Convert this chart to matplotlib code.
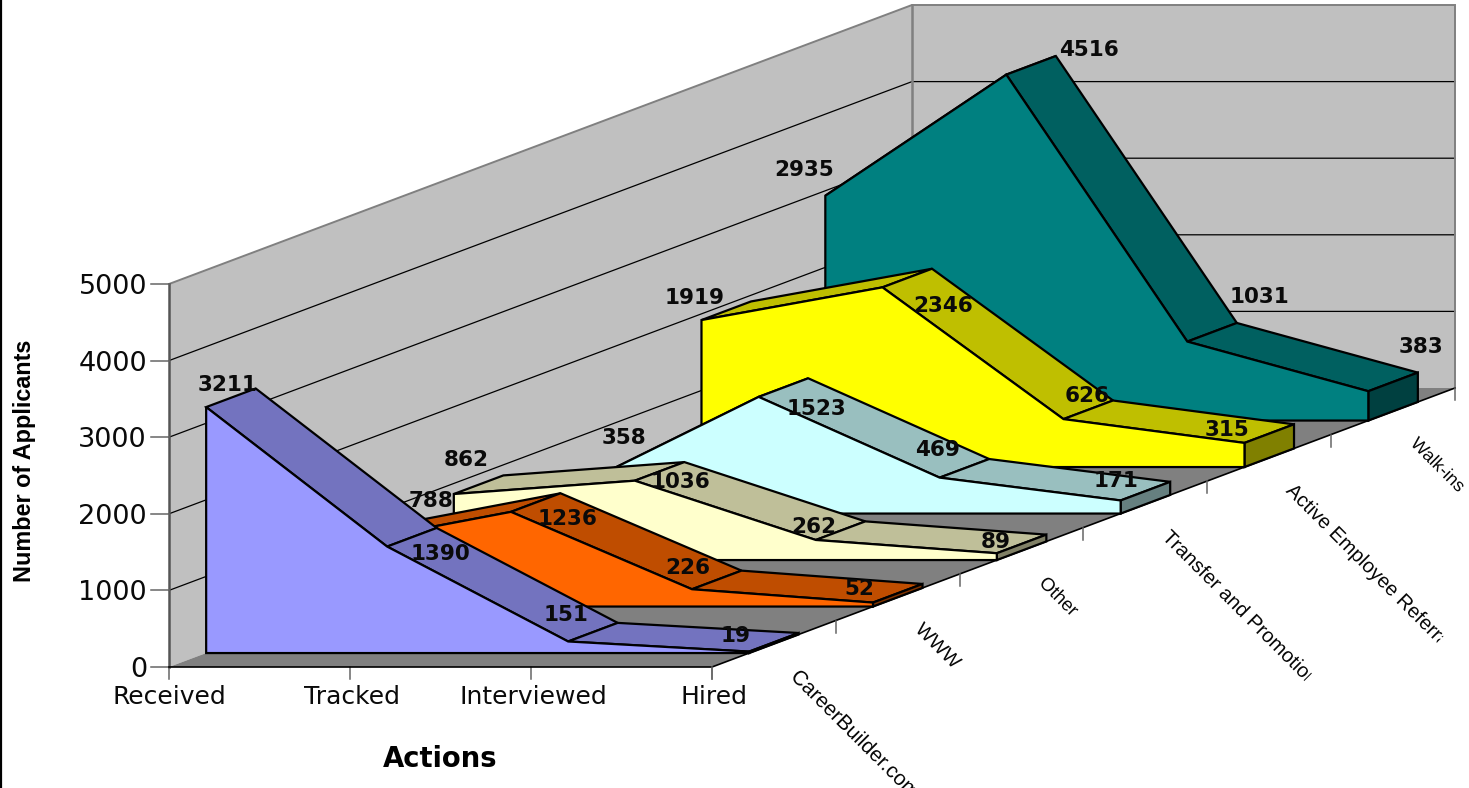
import matplotlib
matplotlib.use("Agg")
import matplotlib.pyplot as plt
import matplotlib.patheffects as pe
from matplotlib.patches import Polygon
import numpy as np

actions = ["Received", "Tracked", "Interviewed", "Hired"]
sources = ["CareerBuilder.com", "WWW", "Other", "Transfer and Promotion",
           "Active Employee Referral", "Walk-ins"]

career_builder = [3211, 1390, 151, 19]
www = [788, 1236, 226, 52]
other = [862, 1036, 262, 89]
transfer = [358, 1523, 469, 171]
active_referral = [1919, 2346, 626, 315]
walk_ins = [2935, 4516, 1031, 383]
series_values = [career_builder, www, other, transfer, active_referral, walk_ins]

value_ticks = [0, 1000, 2000, 3000, 4000, 5000]
value_max = 5000

face_colors = ["#9999FF", "#FF6600", "#FFFFCC", "#CCFFFF", "#FFFF00", "#008080"]

# Nudges (pixels) that keep each value label clear of its ridge
label_nudges = [
    [(-3, -15), (29, 15), (-27, -19), (-38, -8)],
    [(76, -38), (32, 14), (-29, -14), (-38, -6)],
    [(-12, -27), (21, 9), (-27, -6), (-26, -4)],
    [(22, -41), (33, 19), (-27, -20), (-29, -12)],
    [(-32, -15), (36, 26), (-1, -16), (-42, -6)],
    [(-46, -18), (58, -17), (47, -37), (28, -37)],
]

# Room (pixels) allotted to each depth label before it is cut short, and its size
label_room = [166, 200, 200, 202, 214, 200]
label_sizes = [15, 14, 13.5, 14.5, 14.5, 13]

# Oblique projection of the chart box
ORIGIN = np.array([169.0, 667.0])
WIDTH = 543.0
DEPTH_DX, DEPTH_DY = 743.0, 279.0
HEIGHT = 383.0
BAND_GAP = 0.3


def project(u, v, value=0.0):
    """Map category fraction u, depth fraction v and a value to canvas pixels."""
    x = ORIGIN[0] + u * WIDTH + v * DEPTH_DX
    y = ORIGIN[1] - v * DEPTH_DY - value / value_max * HEIGHT
    return (x, y)


def shade(color, factor):
    rgb = np.array(matplotlib.colors.to_rgb(color))
    return tuple(rgb * factor)


fig = plt.figure(figsize=(14.69, 7.88), dpi=100, facecolor="white")
ax = fig.add_axes([0, 0, 1, 1])
ax.set_xlim(0, 1469)
ax.set_ylim(788, 0)
ax.axis("off")

WALL = "#C0C0C0"
FLOOR = "#808080"
EDGE = "#808080"
TEXT = "#0A0A0A"

# Walls and floor
ax.add_patch(Polygon([project(0, 0), project(0, 1), project(0, 1, value_max), project(0, 0, value_max)],
                     fc=WALL, ec="none", zorder=1))
ax.add_patch(Polygon([project(0, 1), project(1, 1), project(1, 1, value_max), project(0, 1, value_max)],
                     fc=WALL, ec="none", zorder=1))
ax.add_patch(Polygon([project(0, 0), project(1, 0), project(1, 1), project(0, 1)],
                     fc=FLOOR, ec="none", zorder=1))

# Gridlines across both walls
for val in value_ticks[1:-1]:
    pts = [project(0, 0, val), project(0, 1, val), project(1, 1, val)]
    ax.plot(*zip(*pts), color="black", lw=0.9, zorder=2)

# Wall frame
ax.plot(*zip(project(0, 0, value_max), project(0, 1, value_max), project(1, 1, value_max), project(1, 1)),
        color=EDGE, lw=1.4, zorder=2, solid_joinstyle="miter")
ax.plot(*zip(project(0, 1), project(0, 1, value_max)), color=EDGE, lw=1.8, zorder=2)
ax.plot(*zip(project(0, 0), project(0, 0, value_max)), color="#555555", lw=1.8, zorder=2)

# Value axis ticks and labels
for val in value_ticks:
    x, y = project(0, 0, val)
    ax.plot([x - 18, x], [y, y], color="#666666", lw=1.1, zorder=2)
    ax.text(x - 22, y, str(val), ha="right", va="center_baseline",
            fontsize=19.5, family="DejaVu Sans", color=TEXT)

# Category axis ticks and labels
for i, name in enumerate(actions):
    x, y = project(i / 3, 0)
    ax.plot([x, x], [y, y + 12], color="#666666", lw=1.1, zorder=2)
    ax.text(x + (2 if i else 0), y + 27.5, name, ha="center", va="center_baseline",
            fontsize=18, family="DejaVu Sans", color=TEXT)

# Floor front edges
ax.plot(*zip(project(0, 0), project(1, 0), project(1, 1)), color="black", lw=1.2, zorder=2)

# Depth axis ticks and labels cut to their allotted room
for k in range(7):
    x, y = project(1, k / 6)
    ax.plot([x, x], [y, y + 12], color="#666666", lw=1.1, zorder=2)
for k, name in enumerate(sources):
    cx, cy = project(1, (k + 0.5) / 6)
    sx, sy = cx + 20, cy + 30
    t = ax.text(sx, sy, name, rotation=-45, rotation_mode="anchor", ha="left", va="center",
                fontsize=label_sizes[k], family="Liberation Sans", color=TEXT,
                path_effects=[pe.Normal()])
    d = np.array([1, 1]) / np.sqrt(2)
    n = np.array([1, -1]) / np.sqrt(2)
    s = np.array([sx, sy])
    clip = Polygon([s - d * 10 + n * 20, s + d * label_room[k] + n * 20,
                    s + d * label_room[k] - n * 20, s - d * 10 - n * 20],
                   transform=ax.transData, fc="none", ec="none")
    ax.add_patch(clip)
    t.set_clip_on(True)
    t.set_clip_path(clip)

# Ribbons, painted from the deepest series to the nearest
for k in range(len(series_values) - 1, -1, -1):
    values = series_values[k]
    base = 10 + (5 - k) * 2
    v0 = (k + BAND_GAP) / 6
    v1 = (k + 1 - BAND_GAP) / 6
    us = [i / 3 for i in range(len(values))]
    col = face_colors[k]
    for a in range(len(values) - 1):
        quad = [project(us[a], v0, values[a]), project(us[a], v1, values[a]),
                project(us[a + 1], v1, values[a + 1]), project(us[a + 1], v0, values[a + 1])]
        ax.add_patch(Polygon(quad, fc=shade(col, 0.75), ec="black", lw=1.6, zorder=base,
                             joinstyle="miter"))
    side = [project(1, v0), project(1, v1), project(1, v1, values[-1]), project(1, v0, values[-1])]
    ax.add_patch(Polygon(side, fc=shade(col, 0.5), ec="black", lw=1.6, zorder=base, joinstyle="miter"))
    front = [project(0, v0)] + [project(u, v0, val) for u, val in zip(us, values)] + [project(1, v0)]
    ax.add_patch(Polygon(front, fc=col, ec="black", lw=1.6, zorder=base + 1, joinstyle="miter"))

# Value labels above everything else
for k, values in enumerate(series_values):
    for a, val in enumerate(values):
        x, y = project(a / 3, (k + 0.5) / 6, val)
        dx, dy = label_nudges[k][a]
        ax.text(x + dx, y + dy + 2, str(val), ha="center", va="center",
                fontsize=15.5, fontweight="bold", family="DejaVu Sans", color=TEXT, zorder=40)

# Axis titles
ax.text(440, 759, "Actions", ha="center", va="center", fontsize=19.8, fontweight="bold",
        family="DejaVu Sans", color="black")
ax.text(25, 461, "Number of Applicants", rotation=90, ha="center", va="center",
        fontsize=16.8, fontweight="bold", family="Liberation Sans", color="black")

# Left border of the chart frame
ax.plot([0.8, 0.8], [0, 788], color="black", lw=1.6, zorder=50)

fig.savefig("out.png", dpi=100, facecolor="white")
